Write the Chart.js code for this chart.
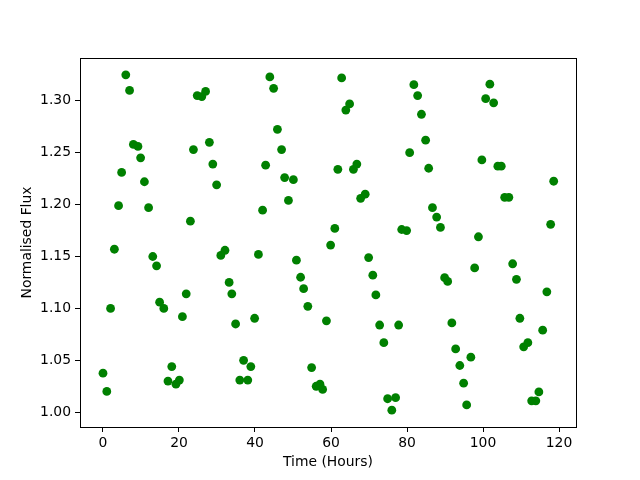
<!DOCTYPE html>
<html>
<head>
<meta charset="utf-8">
<script src="https://cdn.jsdelivr.net/npm/chart.js@4/dist/chart.umd.min.js"></script>
<style>
html,body{margin:0;padding:0;background:#fff;}
canvas{display:block;}
</style>
</head>
<body>
<canvas id="c" width="640" height="480"></canvas>
<script>
const times = [0.0,1.0,2.0,3.0,4.1,4.9,6.0,7.0,8.0,9.2,9.9,10.9,12.0,13.1,14.1,14.9,16.0,17.1,18.1,19.2,
20.1,20.9,21.9,23.0,23.8,24.8,26.0,27.0,28.0,28.9,29.9,31.0,32.1,33.2,33.9,34.9,36.0,37.0,38.1,38.9,
39.9,40.9,42.0,42.8,43.9,44.9,45.9,47.0,47.8,48.8,50.1,50.9,52.0,52.8,53.9,54.9,56.1,57.1,57.8,58.8,
59.9,61.0,61.8,62.8,63.9,64.9,65.9,66.8,67.8,69.0,69.9,71.0,71.8,72.8,73.9,74.9,76.0,77.0,77.8,78.6,
79.9,80.7,81.8,82.8,83.8,84.9,85.7,86.7,87.8,88.8,89.9,90.7,91.8,92.8,93.9,94.9,95.7,96.8,97.8,98.8,
99.7,100.7,101.8,102.8,103.9,104.8,105.7,106.8,107.8,108.8,109.7,110.7,111.8,112.8,113.9,114.7,115.7,116.8,117.8,118.6];
const flux = [1.0376,1.020,1.100,1.157,1.199,1.231,1.325,1.310,1.258,1.256,1.245,1.222,1.197,1.150,1.141,1.106,1.100,1.030,1.044,1.027,
1.031,1.092,1.114,1.184,1.253,1.305,1.304,1.309,1.260,1.239,1.219,1.151,1.156,1.125,1.114,1.085,1.031,1.050,1.031,1.044,
1.0905,1.152,1.1946,1.238,1.323,1.312,1.2725,1.253,1.226,1.204,1.224,1.1465,1.130,1.119,1.102,1.043,1.025,1.027,1.022,1.088,
1.161,1.177,1.234,1.322,1.291,1.297,1.234,1.239,1.206,1.210,1.149,1.132,1.113,1.084,1.067,1.013,1.002,1.014,1.084,1.176,
1.175,1.250,1.3155,1.305,1.287,1.262,1.235,1.197,1.188,1.178,1.1296,1.126,1.086,1.061,1.045,1.028,1.007,1.053,1.139,1.169,
1.243,1.302,1.316,1.298,1.237,1.237,1.207,1.207,1.143,1.128,1.0905,1.063,1.067,1.011,1.011,1.0196,1.079,1.116,1.181,1.2225];
const xTickValues = [0,20,40,60,80,100,120];
const yTickValues = [1.00,1.05,1.10,1.15,1.20,1.25,1.30];

const points = times.map((t,i)=>({x:t,y:flux[i]}));
const FONT = {family:'"DejaVu Sans", sans-serif', size:13.9};

const boxPlugin = {
  id:'box',
  afterDraw(chart){
    const {ctx, chartArea:a} = chart;
    ctx.save();
    ctx.strokeStyle='#000';
    ctx.lineWidth=1;
    ctx.strokeRect(Math.round(a.left)+0.5, Math.round(a.top)+0.5, Math.round(a.right-a.left), Math.round(a.bottom-a.top));
    ctx.restore();
  }
};

new Chart(document.getElementById('c'), {
  type:'scatter',
  data:{datasets:[{
    data:points,
    backgroundColor:'#008000',
    borderColor:'#008000',
    borderWidth:0,
    pointRadius:4.4,
    pointHoverRadius:4.4
  }]},
  options:{
    responsive:false,
    animation:false,
    events:[],
    layout:{padding:{left:0,right:64,top:58,bottom:0}},
    plugins:{legend:{display:false},tooltip:{enabled:false}},
    scales:{
      x:{
        type:'linear', min:-6.05, max:124.47,
        afterBuildTicks(s){ s.ticks = xTickValues.map(v=>({value:v})); },
        afterFit(s){ s.height = 53; },
        grid:{drawOnChartArea:false, drawTicks:true, tickLength:5, color:'#000', tickColor:'#000'},
        border:{display:false},
        ticks:{color:'#000', font:FONT, padding:3, maxRotation:0, callback:v=>String(v)},
        title:{display:true, text:'Time (Hours)', color:'#000', font:FONT, padding:{top:0,bottom:9}}
      },
      y:{
        type:'linear', min:0.98577, max:1.3412,
        afterBuildTicks(s){ s.ticks = yTickValues.map(v=>({value:v})); },
        afterFit(s){ s.width = 80; },
        grid:{drawOnChartArea:false, drawTicks:true, tickLength:5, color:'#000', tickColor:'#000'},
        border:{display:false},
        ticks:{color:'#000', font:FONT, padding:4, callback:v=>Number(v).toFixed(2)},
        title:{display:true, text:'Normalised Flux', color:'#000', font:FONT, padding:{top:19,bottom:0}}
      }
    }
  },
  plugins:[boxPlugin]
});
</script>
</body>
</html>
